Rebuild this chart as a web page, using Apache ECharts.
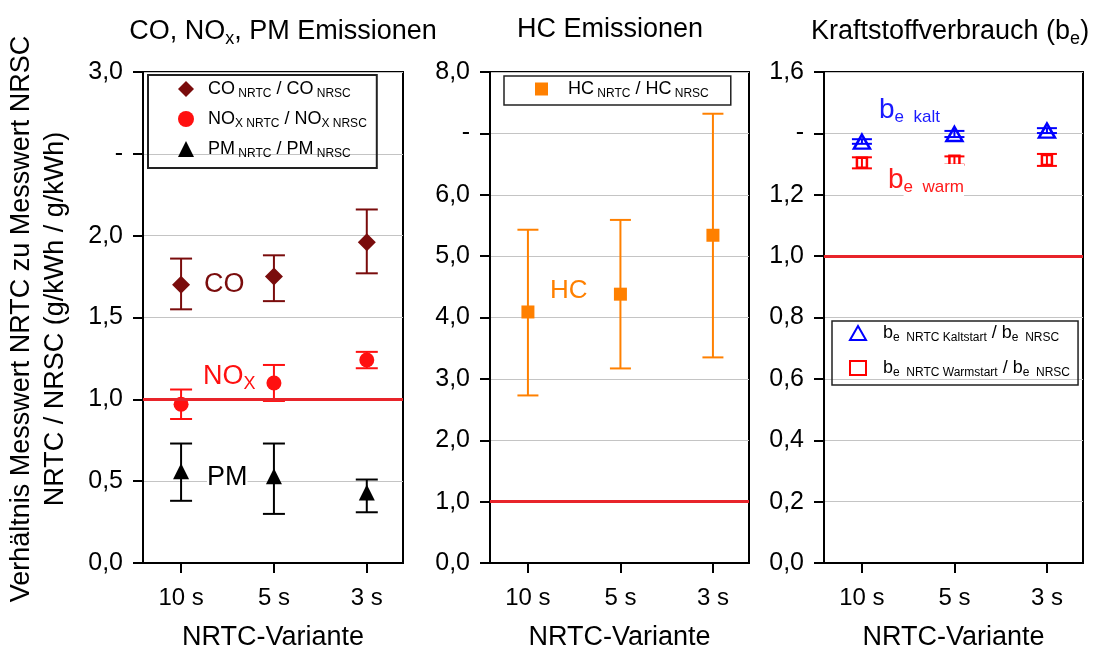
<!DOCTYPE html>
<html>
<head>
<meta charset="utf-8">
<script src="https://cdn.jsdelivr.net/npm/echarts@6/dist/echarts.min.js"></script>
<style>
  html, body { margin: 0; padding: 0; background: #fff; }
  #main { width: 1096px; height: 650px; }
</style>
</head>
<body>
<div id="main"></div>
<script>
var variants = ['10 s', '5 s', '3 s'];

// CO, NOx, PM Verhältnisse
var coMean = [1.70, 1.75, 1.96];
var coLow = [1.55, 1.60, 1.77];
var coHigh = [1.86, 1.88, 2.16];
var noxMean = [0.97, 1.10, 1.24];
var noxLow = [0.88, 0.99, 1.19];
var noxHigh = [1.06, 1.21, 1.29];
var pmMean = [0.56, 0.53, 0.43];
var pmLow = [0.38, 0.30, 0.31];
var pmHigh = [0.73, 0.73, 0.51];

// HC
var hcMean = [4.09, 4.38, 5.34];
var hcLow = [2.73, 3.17, 3.35];
var hcHigh = [5.43, 5.59, 7.32];

// Kraftstoffverbrauch
var kaltMean = [1.373, 1.398, 1.409];
var kaltLow = [1.366, 1.388, 1.401];
var kaltHigh = [1.381, 1.408, 1.417];
var warmMean = [1.304, 1.311, 1.313];
var warmLow = [1.286, 1.298, 1.294];
var warmHigh = [1.322, 1.325, 1.333];

var FONT = 'Liberation Sans, Arial, sans-serif';
var chart = echarts.init(document.getElementById('main'), null, { renderer: 'canvas' });

function pts(mean) {
  return mean.map(function (v, i) { return [i, v]; });
}
function bars(lo, hi) {
  return lo.map(function (v, i) { return [i, v, hi[i]]; });
}
function fmt(v) {
  return v.toFixed(1).replace('.', ',');
}

// Fehlerbalken
function errorBar(capW, color, lw) {
  return function (params, api) {
    var x = api.value(0);
    var lo = api.coord([x, api.value(1)]);
    var hi = api.coord([x, api.value(2)]);
    var st = { stroke: color, lineWidth: lw };
    return {
      type: 'group',
      children: [
        { type: 'line', shape: { x1: lo[0], y1: lo[1], x2: hi[0], y2: hi[1] }, style: st },
        { type: 'line', shape: { x1: lo[0] - capW / 2, y1: lo[1], x2: lo[0] + capW / 2, y2: lo[1] }, style: st },
        { type: 'line', shape: { x1: hi[0] - capW / 2, y1: hi[1], x2: hi[0] + capW / 2, y2: hi[1] }, style: st }
      ]
    };
  };
}

var grids = [
  { left: 143, top: 72, width: 260, height: 491 },
  { left: 490, top: 72, width: 259, height: 491 },
  { left: 824, top: 72, width: 259, height: 491 }
];

function xAxisFor(i) {
  return {
    type: 'value', gridIndex: i, min: -0.41, max: 2.39,
    name: 'NRTC-Variante', nameLocation: 'middle', nameGap: 61,
    nameTextStyle: { fontFamily: FONT, fontSize: 27, color: '#000' },
    axisLine: { show: true, onZero: false, lineStyle: { color: '#000', width: 2 } },
    axisTick: { show: true, customValues: [0, 1, 2], length: 10, lineStyle: { color: '#000', width: 2 } },
    axisLabel: {
      customValues: [0, 1, 2], margin: 23, fontFamily: FONT, fontSize: 24, color: '#000',
      formatter: function (v) { return variants[Math.round(v)]; }
    },
    splitLine: { show: false }
  };
}

function yAxisFor(i, max, step, dashVal) {
  return {
    type: 'value', gridIndex: i, min: 0, max: max, interval: step,
    axisLine: { show: true, onZero: false, lineStyle: { color: '#000', width: 2 } },
    axisTick: { show: true, length: 10, lineStyle: { color: '#000', width: 2 } },
    axisLabel: {
      margin: 20, fontFamily: FONT, fontSize: 25, color: '#000',
      formatter: function (v) { return Math.abs(v - dashVal) < 1e-6 ? '-' : fmt(v); }
    },
    splitLine: { show: true, lineStyle: { color: '#c4c4c4', width: 1.2 } }
  };
}

var refLine = {
  silent: true, symbol: ['none', 'none'], animation: false,
  label: { show: false },
  lineStyle: { color: '#e8242a', width: 3, type: 'solid' },
  data: [{ yAxis: 1 }]
};

var subRich = function (n, s, gap) {
  return {
    g: { width: gap, fontSize: n, fontFamily: FONT },
    n: { fontFamily: FONT, fontSize: n, color: '#000' },
    s: { fontFamily: FONT, fontSize: s, color: '#000', verticalAlign: 'bottom', padding: [Math.round(n * 0.55), 0, 0, 0] }
  };
};

var legendNames = {
  'CO': '{g|\u00a0}{n|CO}{s| NRTC}{n| / CO}{s| NRSC}',
  'NOx': '{g|\u00a0}{n|NO}{s|X NRTC}{n| / NO}{s|X NRSC}',
  'PM': '{g|\u00a0}{n|PM}{s| NRTC}{n| / PM}{s| NRSC}',
  'HC': '{g|\u00a0}{n|HC}{s| NRTC}{n| / HC}{s| NRSC}',
  'kalt': '{g|\u00a0}{n|b}{s|e  NRTC Kaltstart}{n| / b}{s|e  NRSC}',
  'warm': '{g|\u00a0}{n|b}{s|e  NRTC Warmstart}{n| / b}{s|e  NRSC}'
};
function legendFmt(name) { return legendNames[name]; }

var titleRich = {
  a: { fontFamily: FONT, fontSize: 27, fontWeight: 'normal', color: '#000' },
  b: { fontFamily: FONT, fontSize: 18, fontWeight: 'normal', color: '#000', verticalAlign: 'bottom', padding: [14, 0, 0, 0] }
};

var option = {
  animation: false,
  backgroundColor: '#fff',
  title: [
    {
      text: '{a|CO, NO}{b|x}{a|, PM Emissionen}', left: 278, top: 11, textAlign: 'center',
      textStyle: { fontWeight: 'normal', rich: titleRich }
    },
    {
      text: 'HC Emissionen', left: 605, top: 11, textAlign: 'center',
      textStyle: { fontFamily: FONT, fontSize: 27, fontWeight: 'normal', color: '#000' }
    },
    {
      text: '{a|Kraftstoffverbrauch (b}{b|e}{a|)}', left: 806, top: 11,
      textStyle: { fontWeight: 'normal', rich: titleRich }
    }
  ],
  legend: [
    {
      data: ['CO', 'NOx', 'PM'], left: 148, top: 75, width: 231, orient: 'vertical',
      itemWidth: 16, itemHeight: 16, itemGap: 10, padding: [5, 10, 8, 30],
      borderColor: '#222', borderWidth: 2, formatter: legendFmt, selectedMode: false,
      textStyle: { rich: subRich(18, 12, 9) }
    },
    {
      data: ['HC'], left: 504, top: 76, orient: 'vertical',
      itemWidth: 13, itemHeight: 13, padding: [4, 22, 5, 31],
      borderColor: '#222', borderWidth: 1.5, formatter: legendFmt, selectedMode: false,
      textStyle: { rich: subRich(18, 12, 15) }
    },
    {
      data: ['kalt', 'warm'], left: 832, top: 321, orient: 'vertical',
      itemWidth: 16, itemHeight: 14, itemGap: 15, padding: [3, 8, 6, 17],
      borderColor: '#222', borderWidth: 1.5, formatter: legendFmt, selectedMode: false,
      textStyle: { rich: subRich(18, 12, 12) }
    }
  ],
  grid: grids.map(function (g) {
    return {
      left: g.left, top: g.top, width: g.width, height: g.height, outerBoundsMode: 'none', containLabel: false,
      show: true, borderColor: '#000', borderWidth: 2, backgroundColor: '#fff'
    };
  }),
  xAxis: [xAxisFor(0), xAxisFor(1), xAxisFor(2)],
  yAxis: [yAxisFor(0, 3.0, 0.5, 2.5), yAxisFor(1, 8.0, 1.0, 7.0), yAxisFor(2, 1.6, 0.2, 1.4)],
  series: [
    // Panel 1
    { type: 'custom', xAxisIndex: 0, yAxisIndex: 0, z: 2, renderItem: errorBar(22, '#7a0c0c', 2), data: bars(coLow, coHigh), encode: { x: 0, y: [1, 2] }, markLine: refLine },
    { type: 'custom', xAxisIndex: 0, yAxisIndex: 0, z: 2, renderItem: errorBar(22, '#ff1010', 2), data: bars(noxLow, noxHigh), encode: { x: 0, y: [1, 2] } },
    { type: 'custom', xAxisIndex: 0, yAxisIndex: 0, z: 2, renderItem: errorBar(22, '#000', 2), data: bars(pmLow, pmHigh), encode: { x: 0, y: [1, 2] } },
    { name: 'CO', type: 'scatter', xAxisIndex: 0, yAxisIndex: 0, z: 3, symbol: 'diamond', symbolSize: 18, itemStyle: { color: '#7a0c0c', opacity: 1 }, data: pts(coMean) },
    { name: 'NOx', type: 'scatter', xAxisIndex: 0, yAxisIndex: 0, z: 3, symbol: 'circle', symbolSize: 15, itemStyle: { color: '#ff1010', opacity: 1 }, data: pts(noxMean) },
    { name: 'PM', type: 'scatter', xAxisIndex: 0, yAxisIndex: 0, z: 3, symbol: 'triangle', symbolSize: 16, itemStyle: { color: '#000', opacity: 1 }, data: pts(pmMean) },
    // Panel 2
    { type: 'custom', xAxisIndex: 1, yAxisIndex: 1, z: 2, renderItem: errorBar(21, '#ff8000', 2), data: bars(hcLow, hcHigh), encode: { x: 0, y: [1, 2] }, markLine: refLine },
    { name: 'HC', type: 'scatter', xAxisIndex: 1, yAxisIndex: 1, z: 3, symbol: 'rect', symbolSize: 13, itemStyle: { color: '#ff8000', opacity: 1 }, data: pts(hcMean) },
    // Panel 3
    { name: 'kalt', type: 'scatter', xAxisIndex: 2, yAxisIndex: 2, z: 3, symbol: 'triangle', symbolSize: [16, 14], itemStyle: { color: 'rgba(255,255,255,0)', borderColor: '#0000ff', borderWidth: 2.5, opacity: 1 }, data: pts(kaltMean), markLine: refLine },
    { name: 'warm', type: 'scatter', xAxisIndex: 2, yAxisIndex: 2, z: 3, symbol: 'rect', symbolSize: 10, itemStyle: { color: 'rgba(255,255,255,0)', borderColor: '#ff0000', borderWidth: 2.5, opacity: 1 }, data: pts(warmMean) },
    { type: 'custom', xAxisIndex: 2, yAxisIndex: 2, z: 4, renderItem: errorBar(20, '#0000ff', 2), data: bars(kaltLow, kaltHigh), encode: { x: 0, y: [1, 2] } },
    { type: 'custom', xAxisIndex: 2, yAxisIndex: 2, z: 4, renderItem: errorBar(20, '#ff0000', 2), data: bars(warmLow, warmHigh), encode: { x: 0, y: [1, 2] } }
  ],
  graphic: [
    {
      type: 'text', x: 39, y: 319, rotation: Math.PI / 2,
      style: { text: 'Verhältnis Messwert NRTC zu Messwert NRSC\nNRTC / NRSC (g/kWh / g/kWh)', fontFamily: FONT, fontSize: 27, lineHeight: 34, fill: '#000', align: 'center', verticalAlign: 'middle' }
    },
    { type: 'text', x: 204, y: 285, z: 10, style: { text: 'CO', fontFamily: FONT, fontSize: 27, fill: '#7a0c0c', verticalAlign: 'middle' } },
    {
      type: 'text', x: 203, y: 377, z: 10,
      style: { text: '{n|NO}{s|X}', verticalAlign: 'middle', rich: { n: { fontFamily: FONT, fontSize: 27, fill: '#ff1010' }, s: { fontFamily: FONT, fontSize: 18, fill: '#ff1010', verticalAlign: 'bottom', padding: [15, 0, 0, 0] } } }
    },
    { type: 'text', x: 207, y: 478, z: 10, style: { text: 'PM', fontFamily: FONT, fontSize: 27, fill: '#000', verticalAlign: 'middle', backgroundColor: '#fff' } },
    { type: 'text', x: 550, y: 291, z: 10, style: { text: 'HC', fontFamily: FONT, fontSize: 26, fill: '#ff8000', verticalAlign: 'middle' } },
    {
      type: 'text', x: 879, y: 110, z: 10,
      style: { text: '{n|b}{s|e  kalt}', verticalAlign: 'middle', rich: { n: { fontFamily: FONT, fontSize: 28, fill: '#1a1aff' }, s: { fontFamily: FONT, fontSize: 17, fill: '#1a1aff', verticalAlign: 'bottom', padding: [15, 0, 0, 0] } } }
    },
    {
      type: 'text', x: 888, y: 180, z: 10,
      style: { text: '{n|b}{s|e  warm}', verticalAlign: 'middle', rich: { n: { fontFamily: FONT, fontSize: 28, fill: '#ff1a1a' }, s: { fontFamily: FONT, fontSize: 17, fill: '#ff1a1a', verticalAlign: 'bottom', padding: [15, 0, 0, 0], backgroundColor: '#fff' } } }
    }
  ]
};

chart.setOption(option);
</script>
</body>
</html>
